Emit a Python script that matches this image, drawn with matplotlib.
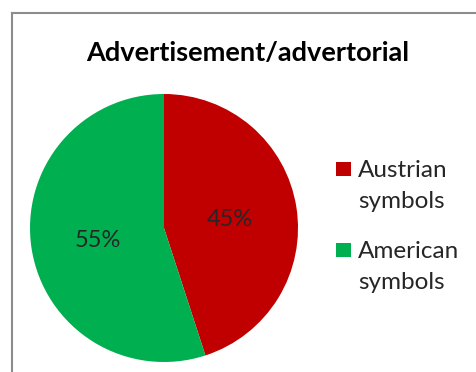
import matplotlib.pyplot as plt
from matplotlib.lines import Line2D
from matplotlib.patches import Rectangle

title = 'Advertisement/advertorial'
labels = ['Austrian\nsymbols', 'American\nsymbols']
shares = [45, 55]
colors = ['#c00000', '#00b050']

plt.rcParams['font.family'] = ['Lato', 'DejaVu Sans']

W, H = 476, 372
fig = plt.figure(figsize=(W / 100, H / 100), dpi=100)

def fx(px):
    return px / W

def fy(py):
    return 1 - py / H

# chart area frame (only top and left edges show)
fig.add_artist(Line2D([fx(12), 1], [fy(13), fy(13)], color='#8c8c8c', lw=1.5))
fig.add_artist(Line2D([fx(12), fx(12)], [0, fy(13)], color='#8c8c8c', lw=1.5))

ax = fig.add_axes([fx(30), 10 / H, 268 / W, 268 / H])
wedges, texts, autotexts = ax.pie(
    shares, colors=colors, startangle=90, counterclock=False,
    autopct='%d%%', pctdistance=0.5,
    textprops={'fontsize': 17, 'color': '#262626'})
for t in autotexts:
    t.set_va('center_baseline')
ax.set_xlim(-1, 1)
ax.set_ylim(-1, 1)
ax.set_aspect('equal')

fig.text(fx(247.5), fy(61), title, ha='center', va='baseline',
         fontsize=19.5, fontweight='bold', color='black')

# legend: colour square plus a two-line label for each slice
for i, (lab, col) in enumerate(zip(labels, colors)):
    base = 177 + i * 81
    fig.add_artist(Rectangle((fx(336), fy(base - 1)), 15 / W, 14 / H,
                             transform=fig.transFigure, color=col, lw=0))
    for j, line in enumerate(lab.split('\n')):
        fig.text(fx(358), fy(base + j * 31), line, ha='left', va='baseline',
                 fontsize=17.5, color='#262626')

fig.savefig('out.png', dpi=100, facecolor='white')
